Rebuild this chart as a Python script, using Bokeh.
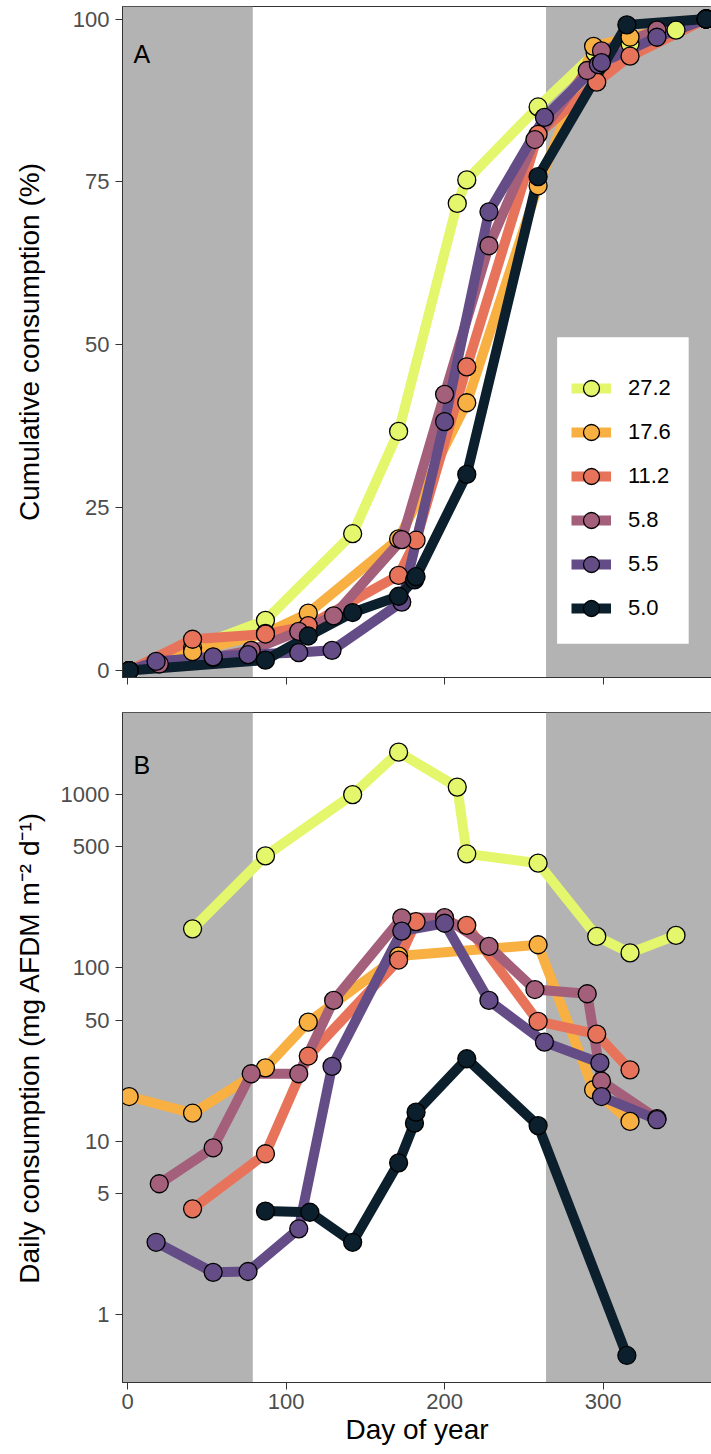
from bokeh.plotting import figure
from bokeh.models import (Range1d, BoxAnnotation, Legend, LegendItem, FixedTicker,
                          NumeralTickFormatter, Label, ColumnDataSource)
from bokeh.layouts import column
from bokeh.embed import file_html
from bokeh.resources import INLINE

FONT = "Liberation Sans"

# ---------------- data ----------------
series_names = ["27.2", "17.6", "11.2", "5.8", "5.5", "5.0"]
series_colors = ["#E4F66B", "#F8B043", "#E7745A", "#A45F7B", "#644C86", "#0B1F2C"]

# Panel A: cumulative consumption (%)
cum_days = {
    "27.2": [1, 41, 87, 142, 171, 208, 214, 259, 295, 317, 346, 365],
    "17.6": [1, 41, 87, 114, 171, 214, 259, 294, 317, 365],
    "11.2": [1, 41, 87, 114, 171, 182, 214, 259, 296, 317, 365],
    "5.8":  [1, 20, 54, 78, 108, 130, 173, 200, 228, 257, 290, 299, 334, 365],
    "5.5":  [1, 18, 54, 76, 108, 129, 173, 200, 228, 263, 297, 299, 334, 365],
    "5.0":  [1, 87, 114, 142, 171, 181, 182, 214, 259, 315, 365],
}
cum_vals = {
    "27.2": [0, 3.5, 7.7, 21.0, 36.7, 71.7, 75.3, 86.5, 94.8, 96.2, 98.3, 100],
    "17.6": [0, 2.9, 5.7, 8.8, 20.2, 41.1, 74.4, 95.8, 97.2, 100],
    "11.2": [0, 4.8, 5.6, 6.9, 14.6, 20.0, 46.6, 82.3, 90.3, 94.3, 100],
    "5.8":  [0, 1.0, 2.0, 3.1, 6.0, 8.4, 20.1, 42.4, 65.2, 81.5, 92.1, 95.1, 98.3, 100],
    "5.5":  [0, 1.4, 2.1, 2.45, 2.75, 3.1, 10.5, 38.2, 70.4, 84.9, 93.0, 93.3, 97.2, 100],
    "5.0":  [0, 1.6, 5.3, 8.9, 11.4, 13.9, 14.4, 30.1, 75.8, 99.1, 100],
}

# Panel B: daily consumption (mg AFDM m-2 d-1)
daily_days = {
    "27.2": [41, 87, 142, 171, 208, 214, 259, 296, 317, 346],
    "17.6": [1, 41, 87, 114, 171, 259, 294, 317],
    "11.2": [41, 87, 114, 171, 182, 214, 259, 296, 317],
    "5.8":  [20, 54, 78, 108, 130, 173, 200, 228, 257, 290, 299, 334],
    "5.5":  [18, 54, 76, 108, 129, 173, 200, 228, 263, 298, 299, 334],
    "5.0":  [87, 115, 142, 171, 181, 182, 214, 259, 315],
}
daily_vals = {
    "27.2": [168, 443, 1000, 1757, 1105, 455, 402, 152, 122, 154],
    "17.6": [18.1, 14.5, 26.5, 48.6, 117, 136, 19.8, 13.0],
    "11.2": [4.07, 8.46, 31.0, 111, 185, 176, 49.1, 41.5, 25.8],
    "5.8":  [5.68, 9.16, 24.5, 24.5, 64.9, 194.5, 195, 133, 75, 70.9, 22.2, 13.5],
    "5.5":  [2.61, 1.75, 1.77, 3.12, 27.0, 163, 181, 64.9, 37.3, 28.3, 18.1, 13.3],
    "5.0":  [3.95, 3.89, 2.61, 7.5, 12.7, 14.7, 29.9, 12.3, 0.58],
}

# dark season (equinoxes)
winter_end = 79
winter_start = 264

x_ticks = [0, 100, 200, 300]
cum_ticks = [0, 25, 50, 75, 100]
daily_ticks = [1, 5, 10, 50, 100, 500, 1000]

GREY = "#B3B3B3"
BORDER = "#333333"
TICKLAB = "#4D4D4D"


def style(p):
    p.outline_line_color = BORDER
    p.outline_line_width = 1
    p.xgrid.visible = False
    p.ygrid.visible = False
    p.background_fill_color = "white"
    p.border_fill_color = "white"
    for ax in (p.xaxis[0], p.yaxis[0]):
        ax.axis_line_color = BORDER
        ax.major_tick_line_color = BORDER
        ax.major_tick_out = 7
        ax.major_tick_in = 0
        ax.minor_tick_line_color = None
        ax.major_label_text_font = FONT
        ax.major_label_text_font_size = "22px"
        ax.major_label_text_color = TICKLAB
        ax.axis_label_text_font = FONT
        ax.axis_label_text_font_size = "28px"
        ax.axis_label_text_font_style = "normal"
        ax.axis_label_text_color = "black"
    p.yaxis[0].major_label_standoff = 6
    p.xaxis[0].ticker = FixedTicker(ticks=x_ticks)
    p.add_layout(BoxAnnotation(right=winter_end, fill_color=GREY, fill_alpha=1,
                               line_alpha=0, level="underlay"))
    p.add_layout(BoxAnnotation(left=winter_start, fill_color=GREY, fill_alpha=1,
                               line_alpha=0, level="underlay"))


def draw(p, days, vals):
    line_rs, pt_rs = {}, {}
    srcs = {n: ColumnDataSource(dict(x=days[n], y=vals[n])) for n in series_names}
    for n, c in zip(series_names, series_colors):
        line_rs[n] = p.line("x", "y", source=srcs[n], line_color=c, line_width=10,
                            line_join="round")
    for n, c in zip(series_names, series_colors):
        pt_rs[n] = p.scatter("x", "y", source=srcs[n], marker="circle", size=18,
                             fill_color=c, line_color="black", line_width=1.3)
    return line_rs, pt_rs


XR = (-3.2, 368.4)

# ---------------- panel A ----------------
pa = figure(frame_width=589, frame_height=671, min_border_left=122, min_border_right=0,
            min_border_top=6, min_border_bottom=18,
            x_range=Range1d(*XR), y_range=Range1d(-1.07, 101.92),
            output_backend="svg", toolbar_location=None)
style(pa)
pa.yaxis[0].ticker = FixedTicker(ticks=cum_ticks)
pa.yaxis[0].axis_label = "Cumulative consumption (%)"
pa.yaxis[0].axis_label_standoff = 25
pa.xaxis[0].major_label_text_font_size = "1px"
pa.xaxis[0].major_label_text_color = None
pa.xaxis[0].major_label_standoff = 0
la, sa = draw(pa, cum_days, cum_vals)
pa.add_layout(Label(x=3.7, y=94.7, text="A", text_font=FONT, text_font_size="25px",
                    text_color="black", text_baseline="alphabetic"))

# white legend panel (extends above the keys, as in the reference)
pa.add_layout(BoxAnnotation(left=271.0, right=354.0, top=51.16, bottom=4.1,
                            fill_color="white", fill_alpha=1, line_alpha=0))
items = [LegendItem(label=n, renderers=[la[n], sa[n]]) for n in series_names]
legend = Legend(items=items, location=(435, 33), padding=14, spacing=0,
                glyph_width=40, glyph_height=44, label_standoff=17,
                label_text_font=FONT, label_text_font_size="22px",
                label_text_color="black", background_fill_color="white",
                background_fill_alpha=0, border_line_alpha=0, margin=0)
pa.add_layout(legend)

# ---------------- panel B ----------------
pb = figure(frame_width=589, frame_height=670, min_border_left=122, min_border_right=0,
            min_border_top=17, min_border_bottom=40,
            x_range=Range1d(*XR), y_range=Range1d(0.405, 2977), y_axis_type="log",
            output_backend="svg", toolbar_location=None)
style(pb)
pb.yaxis[0].ticker = FixedTicker(ticks=daily_ticks)
pb.yaxis[0].formatter = NumeralTickFormatter(format="0")
pb.yaxis[0].axis_label = "Daily consumption (mg AFDM m\u207b\u00b2 d\u207b\u00b9)"
pb.yaxis[0].axis_label_standoff = 13
pb.xaxis[0].axis_label = "Day of year"
pb.xaxis[0].major_label_standoff = 4
pb.xaxis[0].axis_label_standoff = 2
draw(pb, daily_days, daily_vals)
pb.add_layout(Label(x=3.7, y=1491, text="B", text_font=FONT, text_font_size="25px",
                    text_color="black", text_baseline="alphabetic"))

layout = column(pa, pb, spacing=0)
open("out.html", "w").write(file_html(layout, INLINE))
